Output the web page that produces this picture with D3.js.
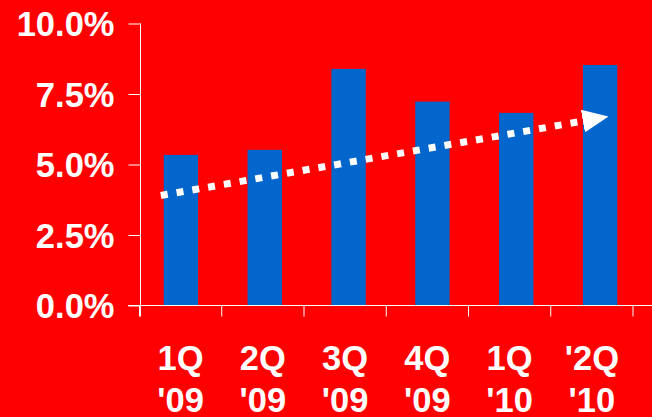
<!DOCTYPE html>
<html>
<head>
<meta charset="utf-8">
<script src="https://cdn.jsdelivr.net/npm/d3@7"></script>
<style>
  html, body { margin: 0; padding: 0; background: #ff0000; }
  svg { display: block; }
  text { font-family: "Liberation Sans", Arial, sans-serif; font-weight: bold; fill: #fff; }
</style>
</head>
<body>
<svg id="chart"></svg>
<script>
// chart data
const quarters = ["1Q '09", "2Q '09", "3Q '09", "4Q '09", "1Q '10", "'2Q '10"];
const labelTop = ["1Q", "2Q", "3Q", "4Q", "1Q", "'2Q"];
const labelBottom = ["'09", "'09", "'09", "'09", "'10", "'10"];
const values = [5.34, 5.52, 8.39, 7.23, 6.83, 8.53];
const yTicks = [0, 2.5, 5, 7.5, 10];
// trend arrow: position in bar index units, value in %
const trendIndex = [-0.24, 5.1];
const trendValue = [3.9, 6.7];

const width = 652, height = 417;

const svg = d3.select("#chart")
    .attr("width", width)
    .attr("height", height);

svg.append("rect")
    .attr("width", width)
    .attr("height", height)
    .attr("fill", "#ff0000");

const y = d3.scaleLinear()
    .domain([0, 10])
    .range([305.5, 23.5]);

// category slots on the axis
const xAxisScale = d3.scaleBand()
    .domain(quarters)
    .range([139.5, 633]);

// bars sit a touch wider than the axis slots
const xBar = d3.scaleBand()
    .domain(quarters)
    .range([139, 642])
    .paddingInner(0.59)
    .paddingOuter(0.295);

// bars
svg.append("g")
    .selectAll("rect")
    .data(values)
    .join("rect")
    .attr("x", (d, i) => xBar(quarters[i]))
    .attr("y", d => y(d))
    .attr("width", xBar.bandwidth())
    .attr("height", d => y(0) - y(d))
    .attr("fill", "#0366cc");

// y axis
const yAxis = svg.append("g")
    .attr("transform", "translate(140.5,0)")
    .call(d3.axisLeft(y).tickValues(yTicks).tickSize(12).tickPadding(14)
        .tickFormat(d => d3.format(".1f")(d) + "%"));
yAxis.select(".domain")
    .attr("d", `M0,${y(10)}V316.5`)
    .attr("stroke", "#fff");
yAxis.selectAll(".tick line").attr("stroke", "#fff");
yAxis.selectAll(".tick text")
    .attr("font-size", 34.5)
    .attr("dy", "0.36em")
    .attr("fill", "#fff");

// x axis
const xAxis = svg.append("g")
    .attr("transform", "translate(0,305.5)");
xAxis.append("line")
    .attr("x1", 128)
    .attr("x2", width)
    .attr("stroke", "#fff");
const bounds = quarters.map(q => xAxisScale(q)).concat([xAxisScale.range()[1]]);
xAxis.selectAll("line.tick")
    .data(bounds)
    .join("line")
    .attr("class", "tick")
    .attr("x1", d => d)
    .attr("x2", d => d)
    .attr("y1", 0)
    .attr("y2", 11)
    .attr("stroke", "#fff");

const xl = svg.append("g")
    .selectAll("text")
    .data(quarters)
    .join("text")
    .attr("text-anchor", "middle")
    .attr("font-size", 34.5)
    .attr("x", q => xAxisScale(q) + xAxisScale.bandwidth() / 2);
xl.append("tspan")
    .attr("x", q => xAxisScale(q) + xAxisScale.bandwidth() / 2)
    .attr("y", 370)
    .text((q, i) => labelTop[i]);
xl.append("tspan")
    .attr("x", q => xAxisScale(q) + xAxisScale.bandwidth() / 2)
    .attr("y", 412)
    .text((q, i) => labelBottom[i]);

// dotted trend arrow
const xIdx = d3.scaleLinear()
    .domain([0, quarters.length - 1])
    .range([xBar(quarters[0]) + xBar.bandwidth() / 2,
            xBar(quarters[quarters.length - 1]) + xBar.bandwidth() / 2]);

svg.append("defs").append("marker")
    .attr("id", "head")
    .attr("viewBox", "0 0 26 23")
    .attr("refX", 26)
    .attr("refY", 11.5)
    .attr("markerUnits", "userSpaceOnUse")
    .attr("markerWidth", 26)
    .attr("markerHeight", 23)
    .attr("orient", "auto")
    .append("path")
    .attr("d", "M0,0L26,11.5L0,23Z")
    .attr("fill", "#fff");

const pts = trendIndex.map((t, i) => [xIdx(t), y(trendValue[i])]);
const dx = pts[1][0] - pts[0][0], dy = pts[1][1] - pts[0][1];
const len = Math.hypot(dx, dy);
const lineEnd = [pts[1][0] - dx / len * 31, pts[1][1] - dy / len * 31];

svg.append("line")
    .attr("x1", pts[0][0])
    .attr("y1", pts[0][1])
    .attr("x2", lineEnd[0])
    .attr("y2", lineEnd[1])
    .attr("stroke", "#fff")
    .attr("stroke-width", 7)
    .attr("stroke-dasharray", "7,9");

svg.append("line")
    .attr("x1", pts[1][0] - dx / len)
    .attr("y1", pts[1][1] - dy / len)
    .attr("x2", pts[1][0])
    .attr("y2", pts[1][1])
    .attr("stroke", "#fff")
    .attr("stroke-opacity", 0)
    .attr("marker-end", "url(#head)");
</script>
</body>
</html>
